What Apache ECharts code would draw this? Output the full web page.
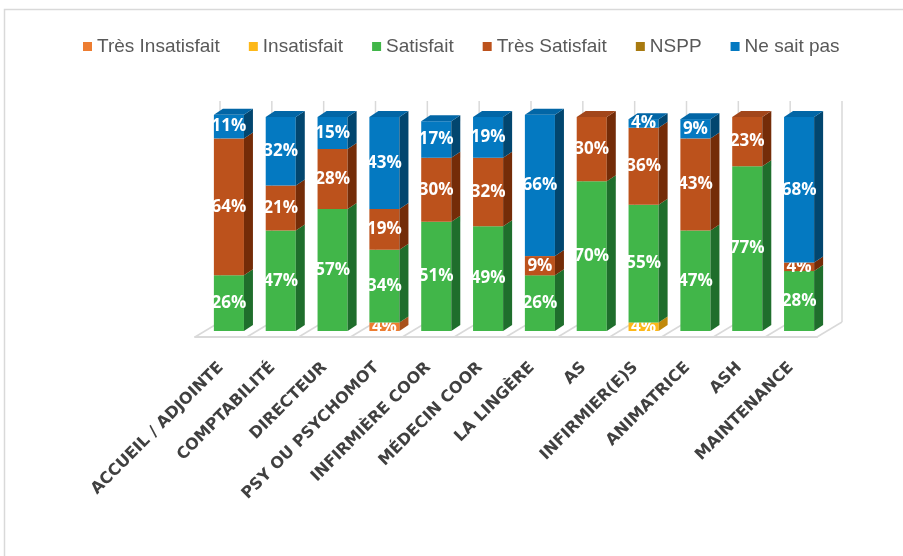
<!DOCTYPE html>
<html><head><meta charset="utf-8">
<script src="https://cdn.jsdelivr.net/npm/echarts@6/dist/echarts.min.js"></script>
<style>html,body{margin:0;padding:0;background:#fff}#c{width:903px;height:556px}</style>
</head><body><div id="c"></div>
<script>
// ---- data ----
const categories = ['ACCUEIL / ADJOINTE','COMPTABILITÉ','DIRECTEUR','PSY OU PSYCHOMOT','INFIRMIÈRE COOR','MÉDECIN COOR','LA LINGÈRE','AS','INFIRMIER(E)S','ANIMATRICE','ASH','MAINTENANCE'];
const seriesNames = ['Très Insatisfait','Insatisfait','Satisfait','Très Satisfait','NSPP','Ne sait pas'];
const tresInsatisfait = [0,0,0,4,0,0,0,0,0,0,0,0];
const insatisfait     = [0,0,0,0,0,0,0,0,4,0,0,0];
const satisfait       = [26,47,57,34,51,49,26,70,55,47,77,28];
const tresSatisfait   = [64,21,28,19,30,32,9,30,36,43,23,4];
const nspp            = [0,0,0,0,0,0,0,0,0,0,0,0];
const neSaitPas       = [11,32,15,43,17,19,66,0,4,9,0,68];
const seriesValues = [tresInsatisfait, insatisfait, satisfait, tresSatisfait, nspp, neSaitPas];

// ---- styles ----
const palette = [
  {front:'#ED7D31', side:'#A9521C', top:'#D46A26'},
  {front:'#FDB819', side:'#C0880A', top:'#E3A312'},
  {front:'#41B649', side:'#1F6E2C', top:'#37A040'},
  {front:'#BC521C', side:'#742C08', top:'#A2461A'},
  {front:'#A87A10', side:'#6E4F08', top:'#93690C'},
  {front:'#0479C1', side:'#02466F', top:'#0266A6'}
];

// stacked base & top flag
const topLevel = categories.map((_, ci) => {
  let t = -1;
  seriesValues.forEach((arr, si) => { if (arr[ci] > 0) t = si; });
  return t;
});

function buildData(si) {
  return categories.map((_, ci) => {
    let base = 0;
    for (let k = 0; k < si; k++) base += seriesValues[k][ci];
    return [ci, base, seriesValues[si][ci], si, topLevel[ci] === si ? 1 : 0];
  });
}

const DX = 9, DY = 6, OX = 8, OY = -6;

function renderBar(params, api) {
  const ci = api.value(0), base = api.value(1), val = api.value(2), level = api.value(3), isTop = api.value(4);
  if (!val) return { type: 'group', children: [] };
  const bw = api.size([1, 0])[0];
  const fw = bw * 0.58;
  const c0 = api.coord([ci, base]);
  const c1 = api.coord([ci, base + val]);
  const x0 = c0[0] - fw / 2 + OX, x1 = x0 + fw;
  const yb = c0[1] + OY, yt = c1[1] + OY;
  const col = palette[level];
  const z = level * 10 + 10;
  const children = [
    { type: 'rect', z2: z, shape: { x: x0, y: yt, width: fw, height: yb - yt }, style: { fill: col.front } },
    { type: 'polygon', z2: z, shape: { points: [[x1, yb], [x1, yt], [x1 + DX, yt - DY], [x1 + DX, yb - DY]] }, style: { fill: col.side } }
  ];
  if (isTop) {
    children.push({ type: 'polygon', z2: z, shape: { points: [[x0, yt], [x1, yt], [x1 + DX, yt - DY], [x0 + DX, yt - DY]] }, style: { fill: col.top } });
  }
  children.push({ type: 'text', z2: z + 1, x: x0 + fw / 2, y: (yb + yt) / 2,
    style: { text: val + '%', fill: '#ffffff', fontFamily: 'Open Sans', fontWeight: 'bold', fontSize: 17, align: 'center', verticalAlign: 'middle' } });
  return { type: 'group', children };
}

const FDX = 25, FDY = 15;
function renderFloor(params, api) {
  const ci = api.value(0);
  const bw = api.size([1, 0])[0];
  const c = api.coord([ci, 0]);
  const top = api.coord([ci, 100])[1] - 22;
  const lineStyle = { stroke: '#D9D9D9', lineWidth: 1.5, fill: null };
  const xs = [c[0] - bw / 2];
  if (ci === categories.length - 1) xs.push(c[0] + bw / 2);
  const children = [];
  xs.forEach(xl => {
    children.push({ type: 'line', shape: { x1: xl, y1: c[1], x2: xl + FDX, y2: c[1] - FDY }, style: lineStyle });
    children.push({ type: 'line', shape: { x1: xl + FDX, y1: c[1] - FDY, x2: xl + FDX, y2: top }, style: lineStyle });
  });
  return { type: 'group', children };
}

const series = [{
  type: 'custom', name: '_floor', silent: true, z: 1,
  renderItem: renderFloor, data: categories.map((_, i) => [i]), encode: { x: 0 }
}];
seriesNames.forEach((name, si) => {
  series.push({
    type: 'custom', name, z: 2, clip: false,
    itemStyle: { color: palette[si].front },
    renderItem: renderBar, data: buildData(si),
    encode: { x: 0, y: [1, 2] }
  });
});

const chart = echarts.init(document.getElementById('c'));
chart.setOption({
  backgroundColor: '#ffffff',
  animation: false,
  graphic: [{ type: 'rect', shape: { x: 4.5, y: 9.5, width: 910, height: 560 }, style: { fill: null, stroke: '#D9D9D9', lineWidth: 1.5 }, silent: true }],
  legend: {
    data: seriesNames, left: 78, top: 32, icon: 'rect', itemWidth: 9, itemHeight: 9, itemGap: 29,
    textStyle: { fontFamily: 'Liberation Sans', fontSize: 19, color: '#595959' }
  },
  grid: { left: 195, right: 86, top: 123, bottom: 219, containLabel: false },
  xAxis: {
    type: 'category', data: categories,
    axisLine: { show: true, lineStyle: { color: '#D9D9D9', width: 2 } },
    axisTick: { show: false },
    splitLine: { show: false },
    axisLabel: { interval: 0, rotate: 45, margin: 28, fontFamily: 'DejaVu Sans', fontWeight: 'bold', fontSize: 16, color: '#404040' }
  },
  yAxis: { type: 'value', min: 0, max: 100, show: false },
  series
});
</script>
</body></html>
